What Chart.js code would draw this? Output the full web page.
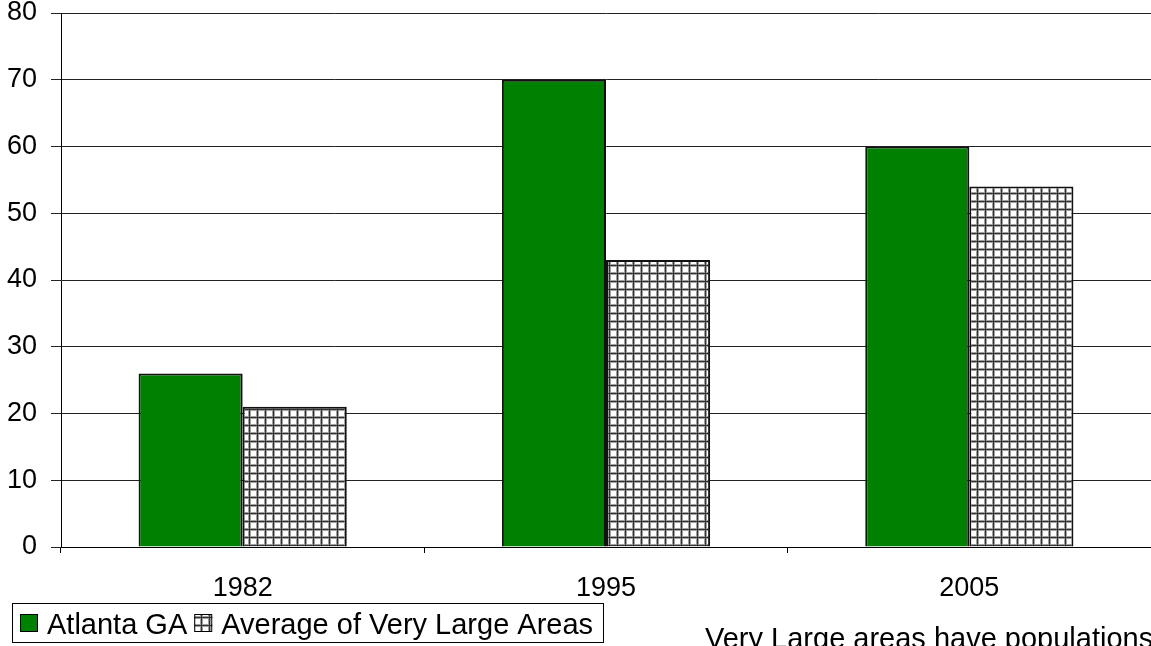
<!DOCTYPE html>
<html>
<head>
<meta charset="utf-8">
<script src="https://cdn.jsdelivr.net/npm/chart.js@4"></script>
<style>
  html, body { margin: 0; padding: 0; background: #fff; }
  #wrap { width: 1151px; height: 646px; position: relative; }
</style>
</head>
<body>
<div id="wrap"><canvas id="chart" width="1151" height="646"></canvas></div>
<script>
const years = ['1982', '1995', '2005'];
const atlanta = [26, 70, 60];
const veryLarge = [21, 43, 54];
const seriesNames = ['Atlanta GA', 'Average of Very Large Areas'];
const note = 'Very Large areas have populations';

const FONT = '"Liberation Sans", Arial, sans-serif';
const SIZE = 27;
const LEGEND_SIZE = 29;

// cross-hatch fill like the old Excel pattern
function hatch(size) {
    const c = document.createElement('canvas');
    c.width = size; c.height = size;
    const g = c.getContext('2d');
    g.fillStyle = '#fff';
    g.fillRect(0, 0, size, size);
    g.fillStyle = '#a0a0a0';
    g.fillRect(0, 0, 3, size);
    g.fillRect(0, 0, size, 3);
    g.fillStyle = '#333';
    g.fillRect(1, 0, 1, size);
    g.fillRect(0, 1, size, 1);
    return g.createPattern(c, 'repeat');
}
const grid = hatch(8);

// legend box + footnote drawn by hand
const extras = {
    id: 'extras',
    afterDraw(chart) {
        const ctx = chart.ctx;
        ctx.save();
        ctx.font = LEGEND_SIZE + 'px ' + FONT;
        ctx.textBaseline = 'alphabetic';
        ctx.strokeStyle = '#000';
        ctx.lineWidth = 1;
        ctx.strokeRect(12.5, 603.5, 591, 39);
        let x = 20;
        chart.data.datasets.forEach((ds, i) => {
            ctx.fillStyle = ds.backgroundColor;
            ctx.fillRect(x, 614, 18, 18);
            ctx.strokeRect(x + 0.5, 614.5, 17, 17);
            ctx.fillStyle = '#000';
            ctx.fillText(seriesNames[i], x + 27, 634);
            x += 27 + ctx.measureText(seriesNames[i]).width + 7;
        });
        ctx.fillStyle = '#000';
        ctx.fillText(note, 705, 648);
        ctx.restore();
    }
};

new Chart(document.getElementById('chart'), {
    type: 'bar',
    data: {
        labels: years,
        datasets: [
            { label: seriesNames[0], data: atlanta, backgroundColor: '#008000', borderColor: '#111', borderWidth: 2 },
            { label: seriesNames[1], data: veryLarge, backgroundColor: grid, borderColor: '#111', borderWidth: 2 }
        ]
    },
    options: {
        responsive: false,
        animation: false,
        devicePixelRatio: 1,
        layout: { padding: { top: 13, right: 0, left: 0, bottom: 0 } },
        datasets: { bar: { barPercentage: 1, categoryPercentage: 0.573 } },
        plugins: { legend: { display: false }, tooltip: { enabled: false } },
        scales: {
            x: {
                afterFit: s => { s.height = 99; s.paddingLeft = 0; s.paddingRight = 0; },
                grid: { offset: true, drawOnChartArea: false, drawTicks: true, tickLength: 6, color: '#000' },
                border: { color: '#000', width: 1 },
                ticks: { color: '#000', font: { family: FONT, size: SIZE }, padding: 19 }
            },
            y: {
                min: 0, max: 80,
                afterFit: s => { s.width = 61; s.paddingTop = 0; s.paddingBottom = 0; },
                grid: { color: '#222', tickLength: 10 },
                border: { color: '#000', width: 1 },
                ticks: { stepSize: 10, color: '#000', font: { family: FONT, size: SIZE }, padding: 14 }
            }
        }
    },
    plugins: [extras]
});
</script>
</body>
</html>
